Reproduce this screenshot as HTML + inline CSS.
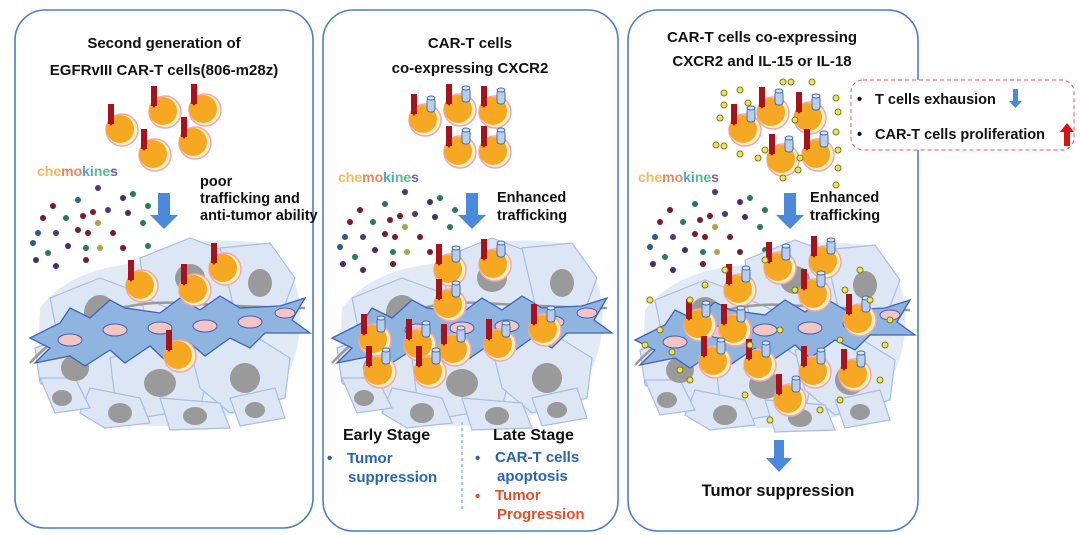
<!DOCTYPE html>
<html><head><meta charset="utf-8"><style>
html,body{margin:0;padding:0;background:#fff;}
svg{display:block;font-family:"Liberation Sans",Arial,sans-serif;font-weight:bold;}
</style></head><body>
<svg width="1080" height="535" viewBox="0 0 1080 535" xmlns="http://www.w3.org/2000/svg">
<defs>
<g id="tc">
  <circle cx="0" cy="0" r="16" fill="#f4f0c8" stroke="#f2a7b0" stroke-width="1.5"/>
  <circle cx="-2" cy="-1" r="14" fill="#f7a823"/>
  <rect x="-14" y="-26" width="6" height="20" fill="#a8121a"/>
  <path d="M-14 -8 h6 l-3 4z" fill="#a8121a"/>
</g>
<g id="tc2">
  <use href="#tc"/>
  <rect x="2" y="-22" width="8" height="14" rx="3" fill="#b8cdea" stroke="#4a6ea8" stroke-width="1"/>
  <ellipse cx="6" cy="-22" rx="4" ry="2" fill="#d6e3f5" stroke="#4a6ea8" stroke-width="1"/>
</g>
<g id="tumor">
  <path d="M10 70 Q40 30 110 25 Q150 -5 230 5 Q275 30 270 90 Q265 150 220 170 Q160 195 90 185 Q20 170 8 120z" fill="#e2eaf6"/>
  <g fill="#dde6f4" stroke="#a9bde0" stroke-width="1.2">
    <path d="M20 60 L70 40 L110 55 L120 100 L80 120 L30 110z"/>
    <path d="M110 20 L160 0 L200 15 L210 60 L160 80 L115 60z"/>
    <path d="M190 10 L240 5 L265 40 L250 80 L205 75z"/>
    <path d="M5 110 L50 95 L95 120 L90 160 L40 165 L10 145z"/>
    <path d="M80 120 L140 100 L180 130 L170 170 L110 180 L85 160z"/>
    <path d="M160 110 L220 95 L260 120 L255 160 L200 175 L170 150z"/>
    <path d="M60 150 L110 160 L120 185 L75 190 L50 175z"/>
    <path d="M130 160 L190 165 L200 190 L140 192z"/>
    <path d="M200 160 L245 150 L255 180 L210 188z"/>
    <path d="M10 140 L45 140 L60 170 L25 175z"/>
  </g>
  <g fill="#9a9a9a">
    <ellipse cx="70" cy="75" rx="16" ry="18"/>
    <ellipse cx="160" cy="40" rx="15" ry="14"/>
    <ellipse cx="230" cy="45" rx="12" ry="14"/>
    <ellipse cx="45" cy="130" rx="14" ry="13"/>
    <ellipse cx="130" cy="145" rx="16" ry="14"/>
    <ellipse cx="215" cy="140" rx="15" ry="15"/>
    <ellipse cx="90" cy="175" rx="12" ry="10"/>
    <ellipse cx="165" cy="178" rx="12" ry="9"/>
    <ellipse cx="225" cy="172" rx="10" ry="8"/>
    <ellipse cx="32" cy="160" rx="10" ry="8"/>
  </g>
  <path d="M0 125 Q60 60 150 65 T275 70" fill="none" stroke="#9a9a9a" stroke-width="2.5"/>
  <g fill="#8fb4e0" stroke="#3e63b8" stroke-width="1.3">
    <path d="M0 100 L30 85 L40 70 L60 80 L80 62 L95 70 L130 75 L150 60 L170 72 L190 58 L210 70 L250 68 L275 60 L262 82 L280 95 L235 95 L220 110 L200 100 L175 118 L160 105 L135 122 L120 108 L95 125 L80 112 L55 128 L40 118 L5 125 L20 110z"/>
  </g>
  <g fill="#f5c4c4" stroke="#3e63b8" stroke-width="1">
    <ellipse cx="40" cy="102" rx="12" ry="6"/><ellipse cx="85" cy="92" rx="12" ry="6"/>
    <ellipse cx="130" cy="90" rx="12" ry="6"/><ellipse cx="175" cy="88" rx="12" ry="6"/>
    <ellipse cx="220" cy="84" rx="12" ry="6"/><ellipse cx="255" cy="75" rx="10" ry="5"/>
  </g>
</g>
<g id="chemo">
  <circle cx="60" cy="0" r="3" fill="#4b3a7a"/><circle cx="15" cy="18" r="3" fill="#7a1a2a"/>
  <circle cx="40" cy="12" r="3" fill="#2d6a7a"/><circle cx="85" cy="10" r="3" fill="#4b2a6a"/>
  <circle cx="95" cy="6" r="3" fill="#2a7a5a"/><circle cx="5" cy="30" r="3" fill="#7a1a2a"/>
  <circle cx="28" cy="30" r="3" fill="#2a7a5a"/><circle cx="45" cy="28" r="3" fill="#7a1a2a"/>
  <circle cx="55" cy="24" r="3" fill="#7a1a2a"/><circle cx="70" cy="22" r="3" fill="#4b3a7a"/>
  <circle cx="90" cy="25" r="3" fill="#4b2a6a"/><circle cx="110" cy="18" r="3" fill="#2a7a5a"/>
  <circle cx="60" cy="35" r="3" fill="#b0a050"/><circle cx="105" cy="35" r="3" fill="#2a7a5a"/>
  <circle cx="0" cy="45" r="3" fill="#2d5a8a"/><circle cx="18" cy="45" r="3" fill="#4b3a7a"/>
  <circle cx="40" cy="42" r="3" fill="#7a1a2a"/><circle cx="50" cy="45" r="3" fill="#7a1a2a"/>
  <circle cx="75" cy="45" r="3" fill="#7a1a2a"/><circle cx="110" cy="58" r="3" fill="#2a7a5a"/>
  <circle cx="-5" cy="55" r="3" fill="#2d5a8a"/><circle cx="10" cy="65" r="3" fill="#2a7a5a"/>
  <circle cx="30" cy="58" r="3" fill="#4b2a6a"/><circle cx="48" cy="60" r="3" fill="#2a7a5a"/>
  <circle cx="62" cy="60" r="3" fill="#b0a050"/><circle cx="85" cy="60" r="3" fill="#7a1a2a"/>
  <circle cx="-2" cy="72" r="3" fill="#4b2a6a"/><circle cx="18" cy="78" r="3" fill="#4b2a6a"/>
  <circle cx="48" cy="72" r="3" fill="#7a1a2a"/>
</g>
<g id="chemotext" font-size="14">
  <text x="0" y="0"><tspan fill="#f7b860">che</tspan><tspan fill="#e8885a">mo</tspan><tspan fill="#5aa0c8">ki</tspan><tspan fill="#5ab890">ne</tspan><tspan fill="#7a5ab0">s</tspan></text>
</g>
<g id="arr"><path d="M-6 0 h12 v22 h8 l-14 14 l-14 -14 h8z" fill="#4a8ad8"/></g>
<g id="yd" fill="#f0e060" stroke="#7a7a20" stroke-width="1"><circle r="3"/></g>
</defs>

<rect x="15" y="10" width="298" height="518" rx="30" fill="#fff" stroke="#4a7ec8" stroke-width="1.6"/>
<rect x="323" y="10" width="295" height="521" rx="30" fill="#fff" stroke="#4a7ec8" stroke-width="1.6"/>
<rect x="628" y="10" width="290" height="521" rx="30" fill="#fff" stroke="#4a7ec8" stroke-width="1.6"/>

<g font-size="15" fill="#111" text-anchor="middle">
<text x="164" y="48">Second generation of</text>
<text x="164" y="75">EGFRvIII CAR-T cells(806-m28z)</text>
</g>
<use href="#tc" x="165" y="112"/><use href="#tc" x="205" y="110"/>
<use href="#tc" x="122" y="130"/><use href="#tc" x="195" y="143"/><use href="#tc" x="155" y="155"/>
<use href="#chemotext" x="37" y="176"/>
<use href="#chemo" x="38" y="188"/>
<use href="#arr" x="164" y="193"/>
<g font-size="14.5" fill="#111"><text x="200" y="186">poor</text><text x="200" y="203">trafficking and</text><text x="200" y="220">anti-tumor ability</text></g>
<use href="#tumor" x="30" y="238"/>
<use href="#tc" x="142" y="286"/><use href="#tc" x="225" y="269"/><use href="#tc" x="195" y="290"/><use href="#tc" x="180" y="356"/>

<g font-size="15" fill="#111" text-anchor="middle">
<text x="470" y="48">CAR-T cells</text><text x="470" y="73">co-expressing CXCR2</text>
</g>
<use href="#tc2" x="425" y="120"/><use href="#tc2" x="460" y="110"/><use href="#tc2" x="495" y="112"/>
<use href="#tc2" x="460" y="152"/><use href="#tc2" x="495" y="152"/>
<use href="#chemotext" x="338" y="182"/>
<use href="#chemo" x="345" y="192"/>
<use href="#arr" x="472" y="193"/>
<g font-size="14.5" fill="#111"><text x="497" y="202">Enhanced</text><text x="497" y="220">trafficking</text></g>
<use href="#tumor" x="332" y="238"/>
<use href="#tc2" x="450" y="270"/><use href="#tc2" x="495" y="265"/>
<use href="#tc2" x="375" y="340"/><use href="#tc2" x="420" y="345"/><use href="#tc2" x="455" y="350"/>
<use href="#tc2" x="500" y="345"/><use href="#tc2" x="545" y="330"/><use href="#tc2" x="380" y="372"/><use href="#tc2" x="430" y="372"/>
<use href="#tc2" x="450" y="305"/>
<line x1="462" y1="422" x2="462" y2="512" stroke="#8aa8d0" stroke-width="1.3" stroke-dasharray="3,3"/>
<g font-size="16"><text x="343" y="440" fill="#111">Early Stage</text><text x="493" y="440" fill="#111">Late Stage</text></g>
<g font-size="15">
<text x="327" y="463" fill="#2a64b0">•</text><text x="347" y="463" fill="#2a64b0">Tumor</text><text x="348" y="482" fill="#2a64b0">suppression</text>
<text x="475" y="463" fill="#2a64b0">•</text><text x="495" y="462" fill="#2a64b0">CAR-T cells</text><text x="497" y="481" fill="#2a64b0">apoptosis</text>
<text x="475" y="501" fill="#e0502a">•</text><text x="495" y="500" fill="#e0502a">Tumor</text><text x="497" y="519" fill="#e0502a">Progression</text>
</g>

<g font-size="15" fill="#111" text-anchor="middle">
<text x="762" y="42">CAR-T cells  co-expressing</text><text x="762" y="66">CXCR2 and IL-15 or IL-18</text>
</g>
<rect x="851" y="80" width="223" height="70" rx="12" fill="#fff" stroke="#e05a5a" stroke-width="1" stroke-dasharray="4,3"/>
<g font-size="14.5" fill="#111"><text x="857" y="104">•</text><text x="875" y="104">T cells exhausion</text>
<text x="857" y="139">•</text><text x="875" y="139">CAR-T cells proliferation</text></g>
<path d="M1013 89 h5 v12 h4 l-6.5 7 l-6.5 -7 h4z" fill="#4a8ad8"/>
<path d="M1064 146 h6 v-14 h4 l-7 -9 l-7 9 h4z" fill="#e01010"/>
<use href="#tc2" x="745" y="130"/><use href="#tc2" x="773" y="113"/><use href="#tc2" x="810" y="118"/>
<use href="#tc2" x="783" y="160"/><use href="#tc2" x="818" y="155"/>
<g>
<use href="#yd" x="724" y="93"/><use href="#yd" x="740" y="90"/><use href="#yd" x="724" y="105"/><use href="#yd" x="748" y="103"/>
<use href="#yd" x="720" y="118"/><use href="#yd" x="724" y="146"/><use href="#yd" x="716" y="145"/><use href="#yd" x="740" y="154"/>
<use href="#yd" x="758" y="158"/><use href="#yd" x="765" y="150"/><use href="#yd" x="783" y="178"/><use href="#yd" x="798" y="170"/>
<use href="#yd" x="800" y="158"/><use href="#yd" x="836" y="98"/><use href="#yd" x="838" y="112"/><use href="#yd" x="836" y="132"/>
<use href="#yd" x="838" y="150"/><use href="#yd" x="838" y="168"/><use href="#yd" x="836" y="185"/><use href="#yd" x="795" y="120"/>
<use href="#yd" x="783" y="82"/><use href="#yd" x="812" y="82"/><use href="#yd" x="791" y="82"/>
</g>
<use href="#chemotext" x="638" y="182"/>
<use href="#chemo" x="655" y="192"/>
<use href="#arr" x="790" y="193"/>
<g font-size="14.5" fill="#111"><text x="810" y="202">Enhanced</text><text x="810" y="220">trafficking</text></g>
<use href="#tumor" x="635" y="240"/>
<use href="#tc2" x="780" y="268"/><use href="#tc2" x="825" y="262"/><use href="#tc2" x="740" y="290"/><use href="#tc2" x="815" y="295"/>
<use href="#tc2" x="700" y="325"/><use href="#tc2" x="735" y="330"/><use href="#tc2" x="860" y="320"/><use href="#tc2" x="715" y="362"/>
<use href="#tc2" x="760" y="365"/><use href="#tc2" x="815" y="372"/><use href="#tc2" x="855" y="375"/><use href="#tc2" x="790" y="400"/>
<g>
<use href="#yd" x="650" y="300"/><use href="#yd" x="660" y="330"/><use href="#yd" x="645" y="345"/><use href="#yd" x="672" y="352"/>
<use href="#yd" x="690" y="300"/><use href="#yd" x="705" y="285"/><use href="#yd" x="765" y="260"/><use href="#yd" x="795" y="290"/>
<use href="#yd" x="845" y="290"/><use href="#yd" x="870" y="300"/><use href="#yd" x="890" y="320"/><use href="#yd" x="885" y="345"/>
<use href="#yd" x="880" y="380"/><use href="#yd" x="840" y="400"/><use href="#yd" x="820" y="410"/><use href="#yd" x="770" y="420"/>
<use href="#yd" x="745" y="395"/><use href="#yd" x="690" y="380"/><use href="#yd" x="680" y="370"/><use href="#yd" x="780" y="330"/>
<use href="#yd" x="840" y="340"/><use href="#yd" x="750" y="345"/><use href="#yd" x="725" y="270"/><use href="#yd" x="860" y="270"/>
</g>
<path d="M774 440 h10 v18 h8 l-13 14 l-13 -14 h8z" fill="#4a8ad8"/>
<text x="778" y="496" font-size="16.5" fill="#111" text-anchor="middle">Tumor suppression</text>
</svg>
</body></html>
